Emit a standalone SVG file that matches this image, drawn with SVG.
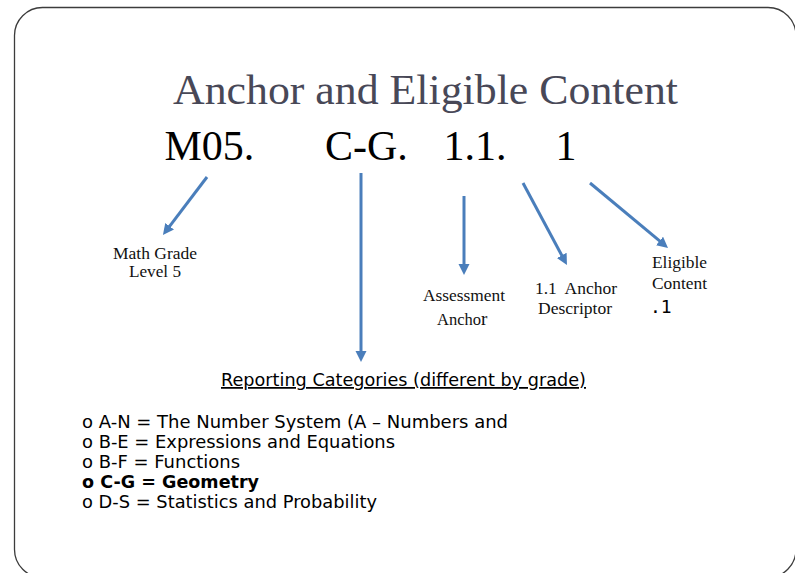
<svg xmlns="http://www.w3.org/2000/svg" width="795" height="573" viewBox="0 0 795 573">
<style>
.title{font-family:"Liberation Serif","Times New Roman",serif;font-size:43px;fill:#484857}
.code{font-family:"Liberation Serif","Times New Roman",serif;font-size:42px;fill:#000}
.lbl{font-family:"Liberation Serif","Times New Roman",serif;font-size:16px;fill:#111}
.sans{font-family:"DejaVu Sans",Verdana,sans-serif;font-size:17.5px;fill:#000}
.arrow{stroke:#4a7ebb;stroke-width:3;fill:none;marker-end:url(#ah)}
</style>
<defs>
<marker id="ah" markerUnits="userSpaceOnUse" markerWidth="12" markerHeight="12" refX="2" refY="5.5" orient="auto">
<path d="M0,0 L11,5.5 L0,11 z" fill="#4a7ebb"/>
</marker>
</defs>
<rect x="14.5" y="7.5" width="781.5" height="570" rx="28" ry="28" fill="#fff" stroke="#3c3c3c" stroke-width="1.3"/>
<g id="title">
<text class="title" x="425.5" y="104" text-anchor="middle" textLength="505" lengthAdjust="spacingAndGlyphs">Anchor and Eligible Content</text>
</g>
<g id="code">
<text class="code" x="164.5" y="160">M05.</text>
<text class="code" x="325" y="160">C-G.</text>
<text class="code" x="443.5" y="160">1.1.</text>
<text class="code" x="555.5" y="160">1</text>
</g>
<g id="connectors">
<line class="arrow" x1="207" y1="177" x2="168.4" y2="227.8"/>
<line class="arrow" x1="361" y1="173" x2="361" y2="353"/>
<line class="arrow" x1="464" y1="196" x2="464" y2="266"/>
<line class="arrow" x1="523" y1="183" x2="562.7" y2="257.1"/>
<line class="arrow" x1="590" y1="183" x2="661.1" y2="242.2"/>
</g>
<g id="math-grade">
<text class="lbl" x="113" y="259" textLength="84" lengthAdjust="spacingAndGlyphs">Math Grade</text>
<text class="lbl" x="129" y="277" textLength="52" lengthAdjust="spacingAndGlyphs">Level 5</text>
</g>
<g id="assessment-anchor">
<text class="lbl" x="423" y="301" textLength="82" lengthAdjust="spacingAndGlyphs">Assessment</text>
<text class="lbl" x="437" y="325" style="font-size:16.5px">Ancho<tspan style="font-size:19px">r</tspan></text>
</g>
<g id="anchor-descriptor">
<text class="lbl" x="535" y="294" textLength="82" lengthAdjust="spacingAndGlyphs" style="white-space:pre">1.1  Anchor</text>
<text class="lbl" x="538" y="314" textLength="74" lengthAdjust="spacingAndGlyphs">Descriptor</text>
</g>
<g id="eligible-content">
<text class="lbl" x="652" y="268" textLength="55" lengthAdjust="spacingAndGlyphs">Eligible</text>
<text class="lbl" x="652" y="289" textLength="55" lengthAdjust="spacingAndGlyphs">Content</text>
<text x="650" y="313" style="font-family:'DejaVu Sans Mono','Liberation Mono',monospace;font-size:18px;fill:#000">.1</text>
</g>
<g id="reporting-categories">
<text class="sans" x="221" y="386" textLength="365" lengthAdjust="spacingAndGlyphs" text-decoration="underline">Reporting Categories (different by grade)</text>
<text class="sans" x="82" y="428" textLength="426" lengthAdjust="spacingAndGlyphs">o A-N = The Number System (A – Numbers and</text>
<text class="sans" x="82" y="448" textLength="313" lengthAdjust="spacingAndGlyphs">o B-E = Expressions and Equations</text>
<text class="sans" x="82" y="468" textLength="158" lengthAdjust="spacingAndGlyphs">o B-F = Functions</text>
<text class="sans" x="82" y="488" textLength="177" lengthAdjust="spacingAndGlyphs" style="font-weight:bold">o C-G = Geometry</text>
<text class="sans" x="82" y="508" textLength="295" lengthAdjust="spacingAndGlyphs">o D-S = Statistics and Probability</text>
</g>
</svg>
